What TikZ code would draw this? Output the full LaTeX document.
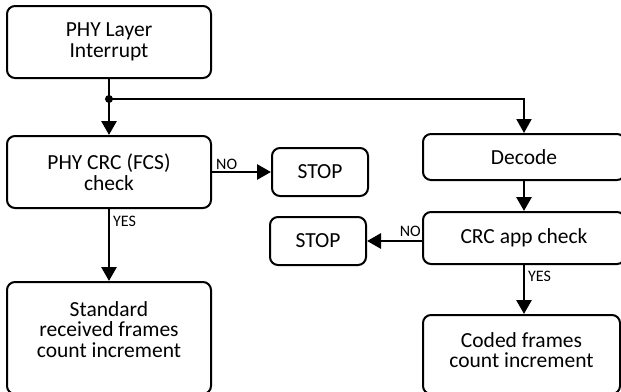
\documentclass[tikz,border=0pt]{standalone}
\usepackage{fontspec}
\setmainfont{Carlito}
\usetikzlibrary{positioning,arrows.meta,calc}
\tikzset{
  block/.style={draw=black, line width=2pt, rounded corners=8pt, align=center,
    minimum width=204pt, minimum height=72pt, inner sep=0pt,
    font=\fontsize{21.5}{20.5}\selectfont},
  stopbox/.style={block, minimum width=96pt, minimum height=48pt},
  flow/.style={line width=2.8pt, draw=black, -{Triangle[length=14pt,width=15pt]}},
  branch/.style={line width=2pt, draw=black, -{Triangle[length=14pt,width=15pt]}},
  answer/.style={font=\fontsize{16}{16}\selectfont, inner sep=2pt}
}

\begin{document}
\begin{tikzpicture}[x=1pt, y=1pt, node distance=56pt and 59pt]
    \useasboundingbox (0,0) rectangle (621,-391);

    % left column
    \node[block] (irq) at (109,-42) {PHY Layer\\Interrupt};
    \node[block, below=of irq] (phycrc) {PHY CRC (FCS)\\check};
    \node[stopbox, right=of phycrc] (stopA) {STOP};
    \node[block, below=72pt of phycrc, minimum height=112pt, text depth=17pt] (stdcount) {Standard\\received frames\\count increment};
    \coordinate[below=20pt of irq] (split);

    % right column
    \node[block, minimum width=202pt, minimum height=46pt, text depth=0pt] (decode) at (524,-157) {Decode};
    \node[block, below=30pt of decode, minimum width=202pt, minimum height=52pt] (crcapp) {CRC app check};
    \node[stopbox, left=55pt of crcapp, yshift=-3pt] (stopB) {STOP};
    \node[block, below=49pt of crcapp.south west, anchor=north west, minimum width=197pt, minimum height=79pt, text depth=9pt] (coded) {Coded frames\\count increment};

    \draw[flow]   (irq) -- (phycrc);
    \draw[branch] (split) -| (decode);
    \fill (split) circle (4pt);

    \draw[flow] (phycrc) -- (stopA);
    \node[answer, anchor=south west, xshift=2pt] at (phycrc.east) {NO};
    \draw[flow] (phycrc) -- (stdcount);
    \node[answer, anchor=north west, xshift=2pt, yshift=-5pt] at (phycrc.south) {YES};

    \draw[flow] (decode) -- (crcapp);
    \draw[flow] (stopB -| crcapp.west) -- (stopB);
    \node[answer, anchor=south east, inner sep=1pt] at (crcapp.west) {NO};
    \draw[flow] (crcapp) -- (crcapp |- coded.north);
    \node[answer, anchor=north west, xshift=2pt, yshift=-4pt] at (crcapp.south) {YES};
\end{tikzpicture}
\end{document}
